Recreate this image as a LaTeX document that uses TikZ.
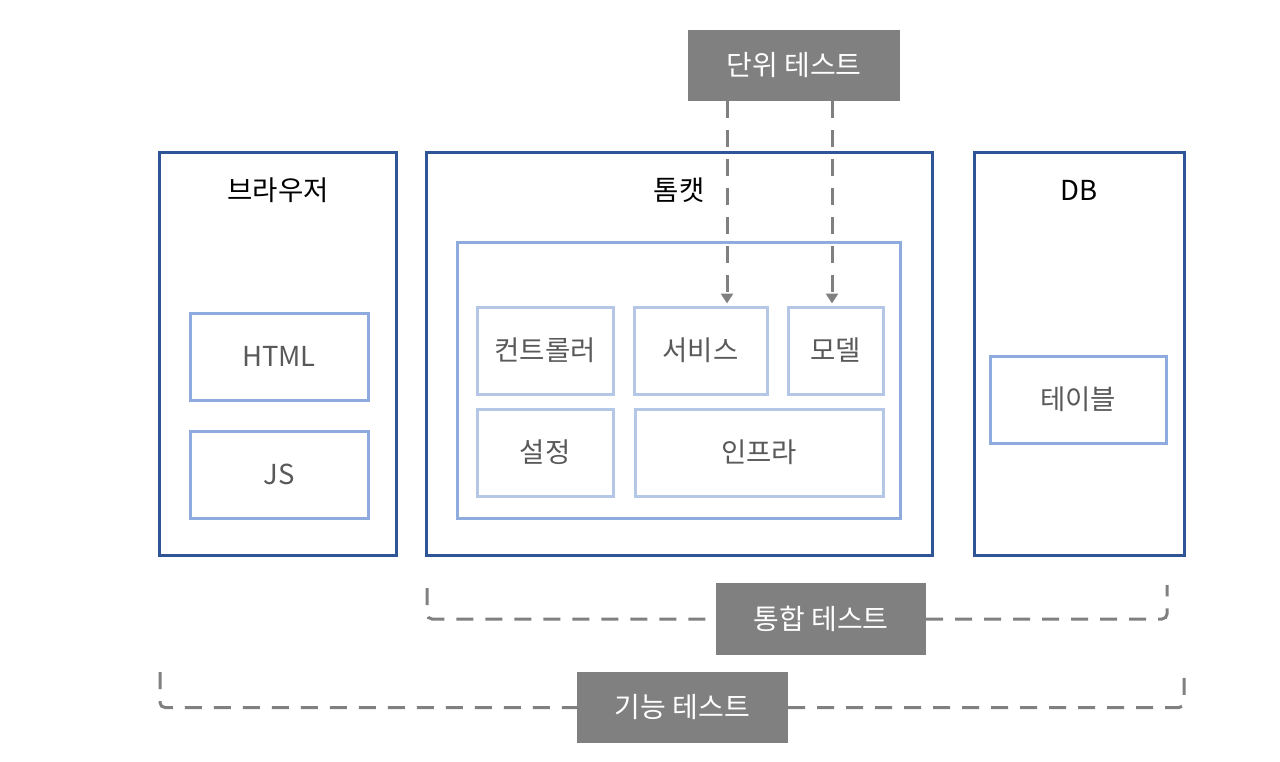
\documentclass[tikz,border=0pt]{standalone}
\usepackage{fontspec}
\setmainfont{Noto Sans CJK KR}
\usetikzlibrary{arrows.meta,calc}
\definecolor{dblue}{HTML}{2F5597}
\definecolor{mblue}{HTML}{8FAADC}
\definecolor{lblue}{HTML}{B4C7E7}
\definecolor{tgray}{HTML}{595959}
\definecolor{bgray}{HTML}{808080}
\tikzset{
  outer/.style={draw=dblue, line width=3pt, minimum width=#1, inner sep=0pt},
  midbox/.style={draw=mblue, line width=3pt, inner sep=0pt, text=tgray},
  litebox/.style={draw=lblue, line width=3pt, inner sep=0pt, text=tgray},
  tag/.style={fill=bgray, text=white, inner sep=0pt, font=\fontsize{28}{32}\selectfont},
  title/.style={text=black, inner sep=0pt},
  dline/.style={draw=bgray, line width=3pt, dash pattern=on 17pt off 12pt},
  arr/.style={dline, -{Triangle[length=10pt,width=12pt]}},
}
\begin{document}
\begin{tikzpicture}[x=1pt,y=-1pt,font=\fontsize{27.5}{32}\selectfont]
\useasboundingbox (0,0) rectangle (1280,761);
% outer boxes
\node[outer=237pt, minimum height=403pt] (browser) at (278,353.5) {};
\node[outer=506pt, minimum height=403pt] (tomcat) at (679,353.5) {};
\node[outer=210pt, minimum height=403pt] (db) at (1079,353.5) {};
\node[title] (tbrowser) at (278,190) {브라우저};
\node[title] (ttomcat) at (679,190) {톰캣};
\node[title] (tdb) at (1079,190) {DB};
% inner tomcat
\node[midbox, minimum width=443pt, minimum height=276pt] (inner) at (678.5,380) {};
\node[midbox, minimum width=178pt, minimum height=87pt] (html) at (279,356.5) {HTML};
\node[midbox, minimum width=178pt, minimum height=87pt] (js) at (279,474.5) {JS};
\node[midbox, minimum width=176pt, minimum height=87pt] (table) at (1078,399.5) {테이블};
\node[litebox, minimum width=136pt, minimum height=87pt] (ctrl) at (545,350.5) {컨트롤러};
\node[litebox, minimum width=133pt, minimum height=87pt] (svc) at (700.5,350.5) {서비스};
\node[litebox, minimum width=95pt, minimum height=87pt] (model) at (835.5,350.5) {모델};
\node[litebox, minimum width=136pt, minimum height=87pt] (conf) at (545,452.5) {설정};
\node[litebox, minimum width=248pt, minimum height=87pt] (infra) at (759,452.5) {인프라};
% tags
\node[tag, minimum width=212pt, minimum height=71pt] (unit) at (794,65.5) {단위 테스트};
\node[tag, minimum width=210pt, minimum height=72pt] (integ) at (821,619) {통합 테스트};
\node[tag, minimum width=211pt, minimum height=71pt] (func) at (682.5,707.5) {기능 테스트};
% unit test arrows
\coordinate (a1) at (727,0);
\coordinate (a2) at (832,0);
\draw[arr] (unit.south -| a1) -- ($(svc.north -| a1)+(0,-2)$);
\draw[arr] (unit.south -| a2) -- ($(model.north -| a2)+(0,-2)$);
% brackets
\coordinate (i1) at (427,588);
\coordinate (i2) at (1167,585);
\draw[dline, rounded corners=5pt] (i1) |- (integ.west);
\draw[dline, rounded corners=5pt] (integ.east) -| (i2);
\coordinate (f1) at (160,672);
\coordinate (f2) at (1184,672);
\draw[dline, rounded corners=5pt] (f1) |- (func.west);
\draw[dline, rounded corners=5pt] (func.east) -| (f2);
\end{tikzpicture}
\end{document}
